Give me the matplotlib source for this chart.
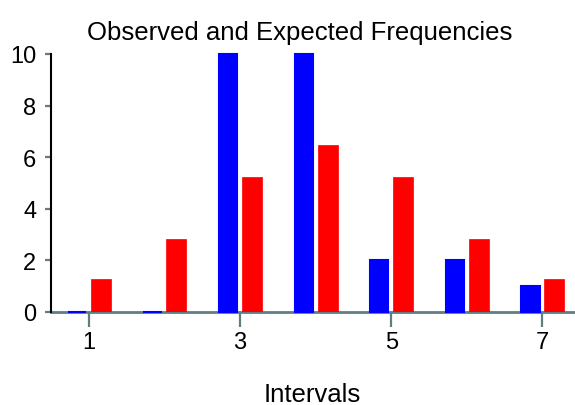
import numpy as np
import matplotlib
matplotlib.use("Agg")
import matplotlib.pyplot as plt

plt.rcParams['font.family'] = ['Liberation Sans', 'DejaVu Sans']

intervals = [1, 2, 3, 4, 5, 6, 7]
observed = [0, 0, 10, 10, 2, 2, 1]
expected = [1.28, 2.83, 5.23, 6.47, 5.23, 2.83, 1.28]
xtick_vals = [1, 3, 5, 7]
ytick_vals = [0, 2, 4, 6, 8, 10]

AXIS_GRAY = '#5f7f80'

fig = plt.figure(figsize=(5.75, 4.06), dpi=100)
ax = fig.add_axes([51/575, 1 - 313/406, 1 - 51/575, (313 - 55)/406])

x = np.array(intervals)
# edge line on blue so the zero-height bars still show as a blue strip
ax.bar(x - 0.158, observed, width=0.24, color='#0000ff', edgecolor='#0000ff',
       linewidth=1.5, zorder=3, clip_on=False)
ax.bar(x + 0.158, expected, width=0.264, color='#ff0000', edgecolor='#ff0000',
       linewidth=0.5, zorder=3)

ax.set_xlim(0.5, 7.43)
ax.set_ylim(0, 10)

for s in ['top', 'right']:
    ax.spines[s].set_visible(False)
ax.spines['left'].set_color('black')
ax.spines['left'].set_linewidth(1.5)
ax.spines['bottom'].set_color(AXIS_GRAY)
ax.spines['bottom'].set_linewidth(2)
ax.spines['bottom'].set_zorder(1)

ax.set_xticks(xtick_vals)
ax.set_xticklabels([str(v) for v in xtick_vals])
ax.set_yticks(ytick_vals)
ax.set_yticklabels([str(v) for v in ytick_vals])
ax.tick_params(axis='x', length=11, width=1.6, color=AXIS_GRAY, labelsize=17, pad=3)
ax.tick_params(axis='y', length=4.5, width=1.6, color=AXIS_GRAY, labelsize=17, pad=6)

fig.text(300/575, 1 - 33/406, 'Observed and Expected Frequencies', ha='center', va='center', fontsize=18.5)
fig.text(312/575, 1 - 395/406, 'Intervals', ha='center', va='center', fontsize=18.5)

fig.savefig('out.png', dpi=100)
